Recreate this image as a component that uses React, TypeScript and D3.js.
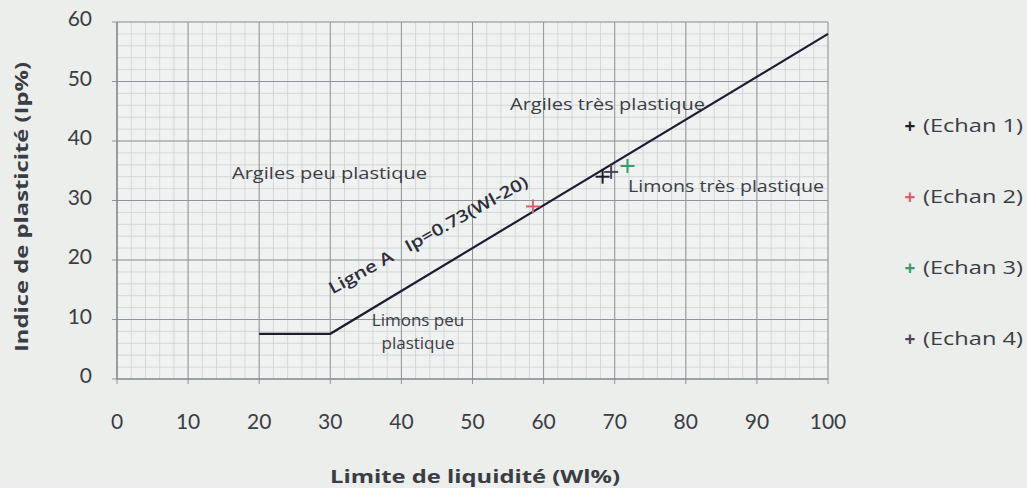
import React from "react";
import * as d3 from "d3";

const xTicks = [0, 10, 20, 30, 40, 50, 60, 70, 80, 90, 100];
const yTicks = [0, 10, 20, 30, 40, 50, 60];
const ligneAX = [20, 30, 100];
const ligneAY = [7.6, 7.6, 58.0];
const sampleNames = ["(Echan 1)", "(Echan 2)", "(Echan 3)", "(Echan 4)"];
const sampleWl = [68.3, 58.5, 71.8, 69.5];
const sampleIp = [34.0, 29.0, 35.8, 34.8];
const sampleColors = ["#1e1e2a", "#d9606a", "#3a9a6a", "#4a4458"];

const W = 1027;
const H = 488;
const FONT = "Lato, 'Open Sans', sans-serif";
const LABEL_FONT = "'Open Sans', Lato, sans-serif";

export default function App() {
  const x = d3.scaleLinear().domain([0, 100]).range([117, 828]);
  const y = d3.scaleLinear().domain([0, 60]).range([379, 22]);
  const minorX = d3.range(0, 101, 2);
  const minorY = d3.range(0, 61, 2);
  const line = d3
    .line<number>()
    .x((_, i) => x(ligneAX[i]))
    .y((d) => y(d));
  const angle = -29;
  const legendY = [126, 197, 268, 339];
  const textColor = "#3a3d44";

  return (
    <svg
      width={W}
      height={H}
      style={{ position: "absolute", left: 0, top: 0, background: "#eceeec" }}
      fontFamily={FONT}
    >
      <rect x={0} y={0} width={W} height={H} fill="#eceeec" />
      <rect x={x(0)} y={y(60)} width={x(100) - x(0)} height={y(0) - y(60)} fill="#f0f2f1" />
      {minorX.map((v) => (
        <line key={"mx" + v} x1={x(v)} x2={x(v)} y1={y(0)} y2={y(60)} stroke="#cbd1d2" strokeWidth={0.8} />
      ))}
      {minorY.map((v) => (
        <line key={"my" + v} y1={y(v)} y2={y(v)} x1={x(0)} x2={x(100)} stroke="#cbd1d2" strokeWidth={0.8} />
      ))}
      {xTicks.map((v) => (
        <line key={"gx" + v} x1={x(v)} x2={x(v)} y1={y(0) + 5} y2={y(60)} stroke="#8f969b" strokeWidth={1} />
      ))}
      {yTicks.map((v) => (
        <line key={"gy" + v} y1={y(v)} y2={y(v)} x1={x(0) - 5} x2={x(100)} stroke="#8f969b" strokeWidth={1} />
      ))}
      <line x1={x(0)} x2={x(100)} y1={y(0)} y2={y(0)} stroke="#7f8790" strokeWidth={1.2} />
      <line x1={x(0)} x2={x(0)} y1={y(0)} y2={y(60)} stroke="#7f8790" strokeWidth={1.2} />
      {yTicks.map((v) => (
        <text key={"ty" + v} x={92} y={y(v) - 3} dy="0.35em" textAnchor="end" fontSize={21} fill={textColor}>
          {v}
        </text>
      ))}
      {xTicks.map((v) => (
        <text key={"tx" + v} x={x(v)} y={422} dy="0.35em" textAnchor="middle" fontSize={21} fill={textColor}>
          {v}
        </text>
      ))}
      <path d={line(ligneAY) || ""} fill="none" stroke="#1d1b2e" strokeWidth={2.2} />
      <g fontFamily={LABEL_FONT} fontSize={16.5} fill={textColor}>
        <text x={232} y={173} dy="0.35em" textLength={195} lengthAdjust="spacingAndGlyphs">
          Argiles peu plastique
        </text>
        <text x={510} y={104} dy="0.35em" textLength={195} lengthAdjust="spacingAndGlyphs">
          Argiles très plastique
        </text>
        <text x={628} y={186} dy="0.35em" textLength={196} lengthAdjust="spacingAndGlyphs">
          Limons très plastique
        </text>
        <text x={418} y={320} dy="0.35em" textAnchor="middle" fontSize={17}>
          Limons peu
        </text>
        <text x={418} y={343} dy="0.35em" textAnchor="middle" fontSize={17}>
          plastique
        </text>
        <text
          transform={`translate(431,240) rotate(${angle})`}
          textAnchor="middle"
          fontSize={16.5}
          fontWeight={600}
          fill="#2e2e3a"
          textLength={225}
          lengthAdjust="spacingAndGlyphs"
          style={{ whiteSpace: "pre" }}
        >
          {"Ligne A   Ip=0.73(Wl-20)"}
        </text>
      </g>
      {sampleNames.map((n, i) => (
        <g key={"pt" + i} stroke={sampleColors[i]} strokeWidth={2}>
          <line x1={x(sampleWl[i]) - 7} x2={x(sampleWl[i]) + 7} y1={y(sampleIp[i])} y2={y(sampleIp[i])} />
          <line x1={x(sampleWl[i])} x2={x(sampleWl[i])} y1={y(sampleIp[i]) - 7} y2={y(sampleIp[i]) + 7} />
        </g>
      ))}
      {sampleNames.map((n, i) => (
        <g key={"lg" + i} fontFamily={LABEL_FONT}>
          <text x={910} y={legendY[i]} dy="0.35em" textAnchor="middle" fontSize={19} fontWeight="bold" fill={sampleColors[i]}>
            +
          </text>
          <text x={923} y={legendY[i]} dy="0.35em" fontSize={18} fill={textColor} textLength={100} lengthAdjust="spacingAndGlyphs">
            {n}
          </text>
        </g>
      ))}
      <text x={330} y={477} dy="0.35em" fontFamily={LABEL_FONT} fontSize={18} fontWeight="bold" fill={textColor} textLength={290} lengthAdjust="spacingAndGlyphs">
        Limite de liquidité (Wl%)
      </text>
      <text
        transform={`translate(22,352) rotate(-90)`}
        dy="0.35em"
        fontFamily={LABEL_FONT}
        fontSize={18}
        fontWeight="bold"
        fill={textColor}
        textLength={290}
        lengthAdjust="spacingAndGlyphs"
      >
        Indice de plasticité (Ip%)
      </text>
    </svg>
  );
}
